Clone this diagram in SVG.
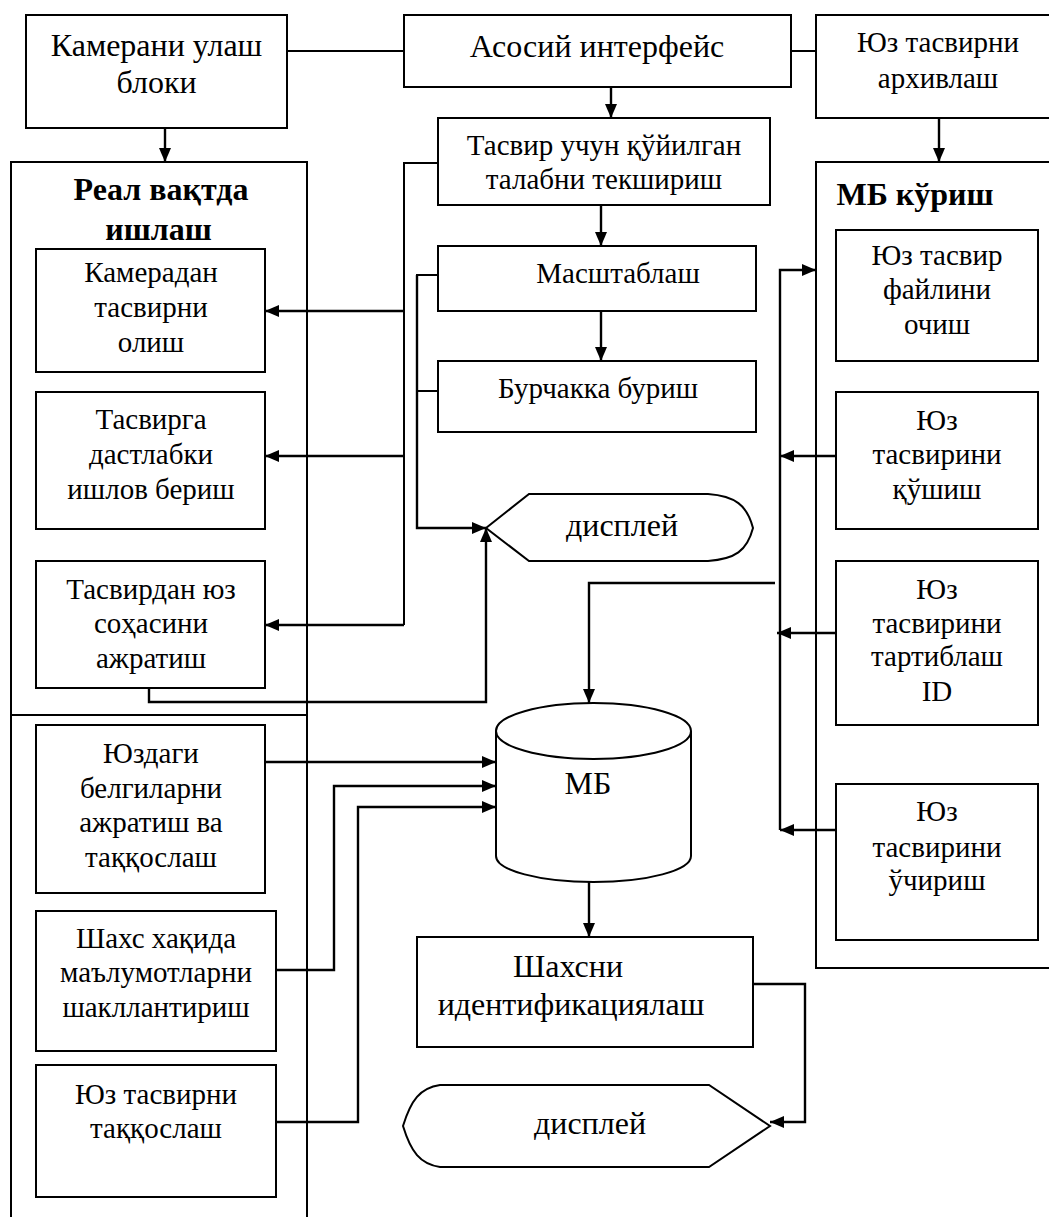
<svg xmlns="http://www.w3.org/2000/svg" width="1049" height="1217" viewBox="0 0 1049 1217" font-family="Liberation Serif">
<defs>
<marker id="ah" viewBox="0 0 14 12" refX="14" refY="6" markerWidth="14" markerHeight="12" markerUnits="userSpaceOnUse" orient="auto">
<path d="M0,0 L14,6 L0,12 Z" fill="#000"/>
</marker>
<style>
.b{fill:#fff;stroke:#000;stroke-width:2}
.o{fill:none;stroke:#000;stroke-width:2}
.c{fill:none;stroke:#000;stroke-width:2}
.a{fill:none;stroke:#000;stroke-width:2.4;marker-end:url(#ah)}
text{font-size:32px;fill:#000;text-anchor:middle}
.s text{font-size:29px}
.h{font-weight:bold}
</style>
</defs>
<rect width="1049" height="1217" fill="#fff"/>

<g id="real-time-panel">
<path class="o" d="M11,1230 L11,162 L307,162 L307,1230"/>
<line class="o" x1="11" y1="715" x2="307" y2="715"/>
<text class="h" x="161" y="200" font-family="Liberation Serif">Реал вақтда</text>
<text class="h" x="158.5" y="240" font-family="Liberation Serif">ишлаш</text>
</g>

<g id="db-view-panel">
<path class="o" d="M1065,162 L816,162 L816,968 L1065,968"/>
<text class="h" x="915" y="205" font-family="Liberation Serif">МБ кўриш</text>
</g>

<g id="camera-connect" font-family="Liberation Serif">
<rect class="b" x="26" y="15" width="261" height="113"/>
<text x="156.5" y="56">Камерани улаш</text>
<text x="156.5" y="93">блоки</text>
</g>

<g id="main-interface" font-family="Liberation Serif">
<rect class="b" x="404" y="15" width="387" height="72"/>
<text x="597" y="57">Асосий интерфейс</text>
</g>

<g id="archive" class="s" font-family="Liberation Serif">
<rect class="b" x="816" y="15" width="250" height="103"/>
<text x="938" y="52">Юз тасвирни</text>
<text x="938" y="88">архивлаш</text>
</g>

<g id="check-request" class="s" font-family="Liberation Serif">
<rect class="b" x="438" y="118" width="332" height="87"/>
<text x="604" y="155">Тасвир учун қўйилган</text>
<text x="604" y="189">талабни текшириш</text>
</g>

<g id="scale" class="s" font-family="Liberation Serif">
<rect class="b" x="438" y="246" width="318" height="65"/>
<text x="618" y="283">Масштаблаш</text>
</g>

<g id="rotate" class="s" font-family="Liberation Serif">
<rect class="b" x="438" y="361" width="318" height="71"/>
<text x="598" y="398">Бурчакка буриш</text>
</g>

<g id="display-1" font-family="Liberation Serif">
<path class="b" d="M486,528 L529,494 L708,494 C735,496 747,505 753,528 C747,551 735,559 708,561 L529,561 Z"/>
<text x="622" y="536">дисплей</text>
</g>

<g id="camera-get" class="s" font-family="Liberation Serif">
<rect class="b" x="36" y="249" width="229" height="123"/>
<text x="151" y="282">Камерадан</text>
<text x="151" y="317">тасвирни</text>
<text x="151" y="352">олиш</text>
</g>

<g id="preprocess" class="s" font-family="Liberation Serif">
<rect class="b" x="36" y="392" width="229" height="137"/>
<text x="151" y="429">Тасвирга</text>
<text x="151" y="464">дастлабки</text>
<text x="151" y="499">ишлов бериш</text>
</g>

<g id="face-extract" class="s" font-family="Liberation Serif">
<rect class="b" x="36" y="561" width="229" height="127"/>
<text x="151" y="599">Тасвирдан юз</text>
<text x="151" y="633">соҳасини</text>
<text x="151" y="668">ажратиш</text>
</g>

<g id="features" class="s" font-family="Liberation Serif">
<rect class="b" x="36" y="725" width="229" height="168"/>
<text x="151" y="763">Юздаги</text>
<text x="151" y="798">белгиларни</text>
<text x="151" y="832">ажратиш ва</text>
<text x="151" y="867">таққослаш</text>
</g>

<g id="person-info" class="s" font-family="Liberation Serif">
<rect class="b" x="36" y="911" width="240" height="140"/>
<text x="156" y="948">Шахс хақида</text>
<text x="156" y="982">маълумотларни</text>
<text x="156" y="1017">шакллантириш</text>
</g>

<g id="face-compare" class="s" font-family="Liberation Serif">
<rect class="b" x="36" y="1065" width="240" height="132"/>
<text x="156" y="1104">Юз тасвирни</text>
<text x="156" y="1138">таққослаш</text>
</g>

<g id="db" font-family="Liberation Serif">
<path class="b" d="M496,731 L496,856 A97.5,26 0 0 0 691,856 L691,731"/>
<ellipse class="b" cx="593.5" cy="731" rx="97.5" ry="28"/>
<text x="588" y="794">МБ</text>
</g>

<g id="identify" font-family="Liberation Serif">
<rect class="b" x="417" y="937" width="336" height="110"/>
<text x="568" y="977">Шахсни</text>
<text x="571" y="1015">идентификациялаш</text>
</g>

<g id="display-2" font-family="Liberation Serif">
<path class="b" d="M440,1085 L709,1085 L770,1126 L709,1167 L440,1167 C420,1164 411,1152 403,1126 C411,1100 420,1088 440,1085 Z"/>
<text x="590" y="1134">дисплей</text>
</g>

<g id="open-file" class="s" font-family="Liberation Serif">
<rect class="b" x="836" y="230" width="202" height="131"/>
<text x="937" y="265">Юз тасвир</text>
<text x="937" y="299">файлини</text>
<text x="937" y="334">очиш</text>
</g>

<g id="add-face" class="s" font-family="Liberation Serif">
<rect class="b" x="836" y="392" width="202" height="137"/>
<text x="937" y="430">Юз</text>
<text x="937" y="464">тасвирини</text>
<text x="937" y="499">қўшиш</text>
</g>

<g id="sort-face" class="s" font-family="Liberation Serif">
<rect class="b" x="836" y="561" width="202" height="164"/>
<text x="937" y="599">Юз</text>
<text x="937" y="633">тасвирини</text>
<text x="937" y="666">тартиблаш</text>
<text x="937" y="701">ID</text>
</g>

<g id="delete-face" class="s" font-family="Liberation Serif">
<rect class="b" x="836" y="784" width="202" height="156"/>
<text x="937" y="821">Юз</text>
<text x="937" y="857">тасвирини</text>
<text x="937" y="890">ўчириш</text>
</g>

<g id="connectors">
<line class="c" x1="287" y1="51" x2="404" y2="51"/>
<line class="c" x1="791" y1="51" x2="816" y2="51"/>
<line class="a" x1="611" y1="87" x2="611" y2="118"/>
<line class="a" x1="165" y1="128" x2="165" y2="162"/>
<line class="a" x1="939" y1="118" x2="939" y2="162"/>
<line class="a" x1="601" y1="205" x2="601" y2="246"/>
<line class="a" x1="601" y1="311" x2="601" y2="361"/>
<path class="c" d="M438,163 L404,163 L404,625"/>
<line class="a" x1="404" y1="311" x2="265" y2="311"/>
<line class="a" x1="404" y1="456" x2="265" y2="456"/>
<line class="a" x1="404" y1="625" x2="265" y2="625"/>
<path class="c" d="M438,275 L417,275 L417,392 M438,391 L417,391"/>
<path class="a" d="M417,275 L417,528 L486,528"/>
<path class="a" d="M149,688 L149,702 L486,702 L486,528"/>
<path class="a" d="M780,830 L780,270 L816,270"/>
<line class="a" x1="836" y1="456" x2="780" y2="456"/>
<line class="a" x1="836" y1="633" x2="777" y2="633"/>
<line class="a" x1="836" y1="830" x2="780" y2="830"/>
<path class="a" d="M775,583 L589,583 L589,703"/>
<line class="a" x1="265" y1="762" x2="496" y2="762"/>
<path class="a" d="M276,970 L334,970 L334,786 L496,786"/>
<path class="a" d="M276,1122 L358,1122 L358,807 L496,807"/>
<line class="a" x1="589" y1="882" x2="589" y2="937"/>
<path class="a" d="M753,984 L805,984 L805,1122 L770,1122"/>
</g>
</svg>
